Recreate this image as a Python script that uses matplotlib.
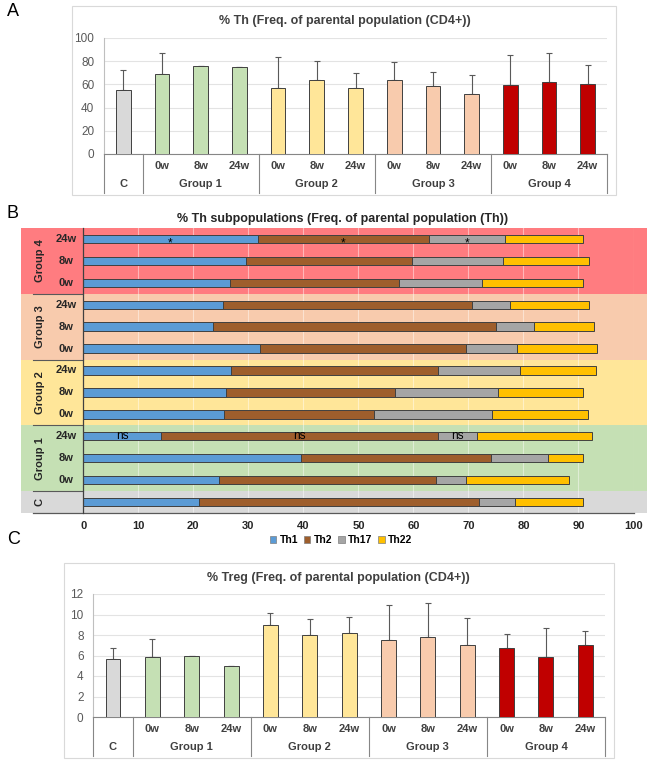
import matplotlib
matplotlib.use("Agg")
import matplotlib.pyplot as plt
import matplotlib.transforms as mtransforms
from matplotlib.patches import Rectangle, Patch
import numpy as np

plt.rcParams['font.family'] = ['Liberation Sans', 'DejaVu Sans']

# ---- data ----
categories = ['C', '0w', '8w', '24w', '0w', '8w', '24w', '0w', '8w', '24w', '0w', '8w', '24w']
groups = ['C', 'Group 1', 'Group 2', 'Group 3', 'Group 4']
group_rows = [(0, 0), (1, 3), (4, 6), (7, 9), (10, 12)]

# % Th of CD4+ (mean, upper error)
th_mean = [55.1, 68.9, 75.7, 75.1, 57.1, 63.7, 56.6, 63.7, 58.9, 51.7, 59.4, 62.3, 60.6]
th_sd = [17.5, 18.5, 0, 0, 26.9, 16.6, 12.8, 15.2, 12.2, 16.0, 25.7, 24.6, 16.5]

# % Treg of CD4+ (mean, upper error)
treg_mean = [5.66, 5.89, 5.98, 5.0, 8.96, 8.01, 8.21, 7.52, 7.82, 7.06, 6.77, 5.89, 7.06]
treg_sd = [1.11, 1.70, 0, 0, 1.14, 1.57, 1.50, 3.40, 3.33, 2.59, 1.37, 2.78, 1.34]

# Th subpopulations, rows from bottom (C) to top (Group 4 24w)
subsets = ['Th1', 'Th2', 'Th17', 'Th22']
th1 = [21.0, 24.7, 39.6, 14.2, 25.6, 25.9, 26.8, 32.1, 23.6, 25.4, 26.7, 29.6, 31.7]
th2 = [50.9, 39.4, 34.5, 50.3, 27.2, 30.7, 37.7, 37.5, 51.4, 45.2, 30.7, 30.1, 31.1]
th17 = [6.5, 5.4, 10.3, 7.0, 21.4, 18.7, 14.8, 9.3, 7.0, 6.9, 15.1, 16.6, 13.8]
th22 = [12.4, 18.7, 6.4, 21.0, 17.5, 15.5, 13.9, 14.4, 10.9, 14.5, 18.3, 15.7, 14.2]
# (row, subset index, text)
marks = [(12, 0, '*'), (12, 1, '*'), (12, 2, '*'), (3, 0, 'ns'), (3, 1, 'ns'), (3, 2, 'ns')]

group_colors = ['#d9d9d9', '#c5e0b4', '#ffe699', '#f8cbad', '#c00000']
band_colors = ['#d9d9d9', '#c5e0b4', '#ffe699', '#f8cbad', '#ff7c80']
subset_colors = ['#5b9bd5', '#9e5e2c', '#a5a5a5', '#ffc000']

W, H = 649, 761
fig = plt.figure(figsize=(W / 100, H / 100), dpi=100)


def px_rect(x0, y0, x1, y1):
    return [x0 / W, 1 - y1 / H, (x1 - x0) / W, (y1 - y0) / H]


def panel_box(x0, y0, x1, y1):
    fig.patches.append(Rectangle((x0 / W, 1 - y1 / H), (x1 - x0) / W, (y1 - y0) / H,
                                 transform=fig.transFigure, fill=False,
                                 edgecolor='#d9d9d9', lw=0.8))


def bar_panel(rect_px, means, sds, ymax, step, title, title_xy):
    x0, y0, x1, y1 = rect_px
    ax = fig.add_axes(px_rect(*rect_px))
    hpx = y1 - y0
    colors = [group_colors[0]] + [c for c in group_colors[1:] for _ in range(3)]
    x = np.arange(len(means))
    ax.bar(x, means, width=0.38, color=colors, edgecolor='#404040', lw=0.7, zorder=3)
    ax.errorbar(x, means, yerr=[np.zeros(len(sds)), sds], fmt='none',
                ecolor='#595959', elinewidth=0.8, capsize=2, capthick=0.8, zorder=2)
    ax.set_xlim(-0.5, len(means) - 0.5)
    ax.set_ylim(0, ymax)
    ax.set_yticks(np.arange(0, ymax + 0.1, step))
    ax.yaxis.grid(True, color='#e3e3e3', lw=0.8, zorder=0)
    ax.set_axisbelow(True)
    ax.tick_params(axis='y', length=0, labelsize=8.5, labelcolor='#595959', pad=7)
    ax.set_xticks([])
    for s in ['top', 'right']:
        ax.spines[s].set_visible(False)
    ax.spines['left'].set_visible(False)
    ax.spines['bottom'].set_color('#868686')
    trans = mtransforms.blended_transform_factory(ax.transData, ax.transAxes)
    y_cat = -12 / hpx
    y_grp = -30 / hpx
    y_end = -39 / hpx
    for i, c in enumerate(categories):
        if i > 0:
            ax.text(i, y_cat, c, transform=trans, ha='center', va='center',
                    fontsize=8, fontweight='bold', color='#404040')
    for g, (lo, hi), in zip(groups, group_rows):
        ax.text((lo + hi) / 2, y_grp, g, transform=trans, ha='center', va='center',
                fontsize=8, fontweight='bold', color='#404040')
    for b in [-0.5, 0.5, 3.5, 6.5, 9.5, 12.5]:
        ax.plot([b, b], [y_end, 0], transform=trans, color='#868686', lw=0.8,
                clip_on=False)
    ax.plot([-0.5, -0.5], [0, 1], transform=trans, color='#bfbfbf', lw=0.8,
            clip_on=False)
    fig.text(title_xy[0] / W, 1 - title_xy[1] / H, title, ha='center', va='center',
             fontsize=9, fontweight='bold', color='#404040')
    return ax


# ---- panel A ----
panel_box(72, 6, 616, 195)
bar_panel((104, 38, 607, 154), th_mean, th_sd, 100, 20,
          '% Th (Freq. of parental population (CD4+))', (345, 21))
fig.text(7 / W, 1 - 12 / H, 'A', fontsize=13, ha='left', va='center')

# ---- panel B ----
bx0, by0, bx1, by1 = 83.3, 228, 633.5, 513
axb = fig.add_axes(px_rect(bx0, by0, bx1, by1))
bw = bx1 - bx0
rows = np.arange(len(th1))
transb = mtransforms.blended_transform_factory(axb.transAxes, axb.transData)
for col, (lo, hi) in zip(band_colors, group_rows):
    axb.add_patch(Rectangle(((20.7 - bx0) / bw, lo - 0.5), (647 - 20.7) / bw, hi - lo + 1,
                            transform=transb, color=col, lw=0, zorder=0, clip_on=False))
for gx in range(10, 101, 10):
    axb.axvline(gx, color='white', alpha=0.45, lw=0.8, zorder=1)

left = np.zeros(len(th1))
seg_vals = [np.array(th1), np.array(th2), np.array(th17), np.array(th22)]
for vals, col, name in zip(seg_vals, subset_colors, subsets):
    axb.barh(rows, vals, left=left, height=0.38, color=col, edgecolor='#404040',
             lw=0.7, zorder=3, label=name)
    left = left + vals
starts = np.cumsum([np.zeros(len(th1))] + seg_vals[:-1], axis=0)
for r, k, t in marks:
    dy = -0.22 if t == '*' else 0.0
    axb.text(starts[k][r] + seg_vals[k][r] / 2, r + dy, t, ha='center', va='center',
             fontsize=8.5, color='black', zorder=4)

axb.set_xlim(0, 100)
axb.set_ylim(-0.5, len(th1) - 0.5)
axb.set_xticks(np.arange(0, 101, 10))
axb.set_yticks([])
axb.tick_params(axis='x', length=0, pad=6, labelsize=8, labelcolor='#262626')
for lab in axb.get_xticklabels():
    lab.set_fontweight('bold')
for s in ['top', 'right', 'bottom']:
    axb.spines[s].set_visible(False)
axb.spines['left'].set_color('#404040')
axb.spines['left'].set_linewidth(0.9)
axb.spines['left'].set_zorder(5)
axb.plot([(33 - bx0) / bw, 1], [0, 0], transform=axb.transAxes, color='#595959',
         lw=0.9, clip_on=False, zorder=5)
for b in [0.5, 3.5, 6.5, 9.5]:
    axb.plot([(33 - bx0) / bw, 0], [b, b], transform=transb, color='#595959', lw=0.8,
             clip_on=False, zorder=5)
for i, c in enumerate(categories):
    if i > 0:
        axb.text((65.7 - bx0) / bw, i, c, transform=transb, ha='center', va='center',
                 fontsize=8, fontweight='bold', color='#262626')
for g, (lo, hi) in zip(groups, group_rows):
    axb.text((40 - bx0) / bw, (lo + hi) / 2, g, transform=transb, ha='center',
             va='center', rotation=90, fontsize=8, fontweight='bold', color='#262626')
fig.text(343 / W, 1 - 219 / H, '% Th subpopulations (Freq. of parental population (Th))',
         ha='center', va='center', fontsize=9, fontweight='bold', color='#262626')
handles = [Patch(facecolor=c, edgecolor='#7f7f7f', lw=0.5) for c in subset_colors]
fig.legend(handles, subsets, loc='center', bbox_to_anchor=(341 / W, 1 - 540 / H),
           ncol=4, frameon=False, handlelength=0.6, handleheight=0.6,
           handletextpad=0.3, columnspacing=0.6, prop={'weight': 'bold', 'size': 7.5})
fig.text(7 / W, 1 - 213 / H, 'B', fontsize=13, ha='left', va='center')

# ---- panel C ----
panel_box(64, 563, 614, 758)
bar_panel((93.3, 594, 605, 717), treg_mean, treg_sd, 12, 2,
          '% Treg (Freq. of parental population (CD4+))', (338, 578))
fig.text(7 / W, 1 - 540 / H, 'C', fontsize=13, ha='left', va='center')

fig.savefig('out.png', dpi=100)
